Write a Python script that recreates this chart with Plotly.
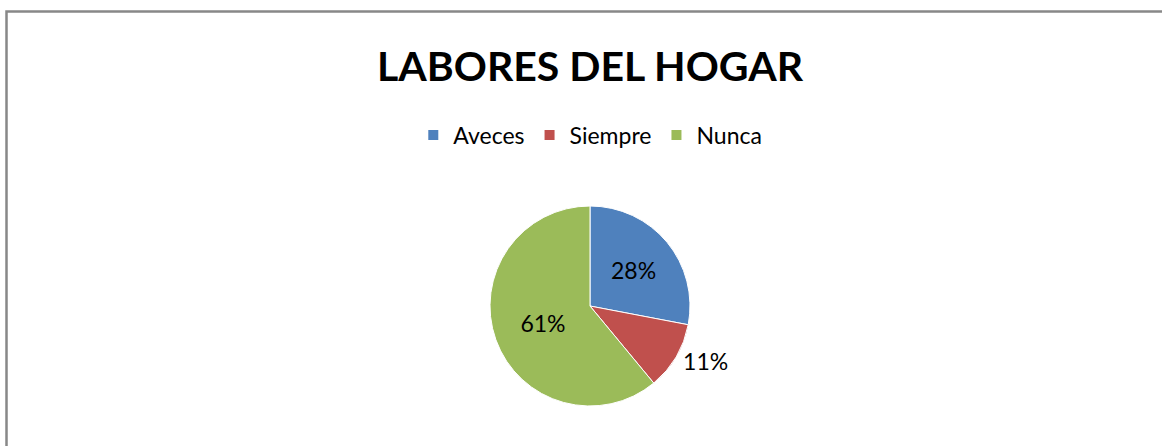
import plotly.graph_objects as go

categories = ["Aveces", "Siempre", "Nunca"]
values = [28, 11, 61]
colors = ["#4F81BD", "#C0504D", "#9BBB59"]
text_positions = ["inside", "outside", "inside"]

W, H = 1162, 446
FONT = "Lato, Calibri, Carlito, sans-serif"

fig = go.Figure(go.Pie(
    labels=categories,
    values=values,
    sort=False,
    direction="clockwise",
    rotation=0,
    marker=dict(colors=colors, line=dict(color="white", width=1)),
    textinfo="percent",
    texttemplate="%{percent:.0%}",
    textposition=text_positions,
    insidetextorientation="horizontal",
    textfont=dict(family=FONT, size=23, color="black"),
    outsidetextfont=dict(family=FONT, size=23, color="black"),
    domain=dict(x=[490 / W, 690 / W], y=[1 - 406 / H, 1 - 206 / H]),
    hoverinfo="label+percent",
))

fig.update_layout(
    width=W, height=H,
    margin=dict(l=0, r=0, t=0, b=0),
    paper_bgcolor="white",
    plot_bgcolor="white",
    font=dict(family=FONT, color="black"),
    showlegend=True,
    legend=dict(
        orientation="h",
        x=0.508, xanchor="center",
        y=1 - 135 / H, yanchor="middle",
        font=dict(family=FONT, size=23, color="black"),
        itemsizing="constant",
    ),
    annotations=[dict(
        text="<b>LABORES DEL HOGAR</b>",
        x=590 / W, y=1 - 66 / H,
        xref="paper", yref="paper",
        xanchor="center", yanchor="middle",
        showarrow=False,
        font=dict(family=FONT, size=41, color="black"),
    )],
    shapes=[dict(
        type="rect", xref="paper", yref="paper",
        x0=6.5 / W, x1=1.05, y0=-0.05, y1=1 - 11.5 / H,
        line=dict(color="#888888", width=2.5),
        fillcolor="rgba(0,0,0,0)",
    )],
)

fig.write_html("out.html", config={"displayModeBar": False})

with open("out.html", "r", encoding="utf-8") as f:
    html = f.read()
html = html.replace("<head>", "<head><style>html,body{margin:0;padding:0;overflow:hidden;}</style>", 1)
with open("out.html", "w", encoding="utf-8") as f:
    f.write(html)
